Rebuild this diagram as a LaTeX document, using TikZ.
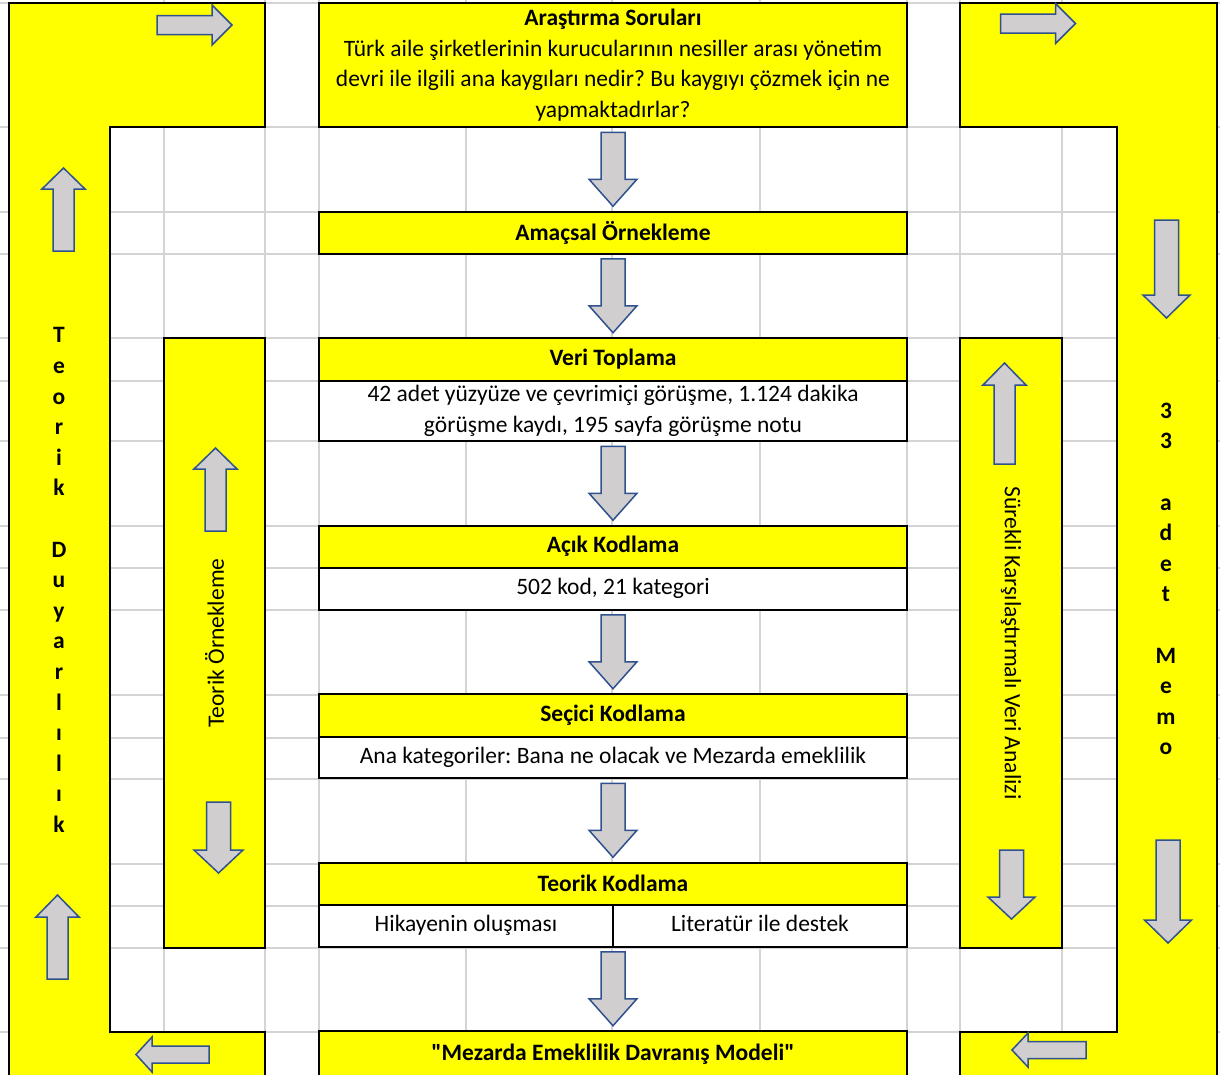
\documentclass[tikz,border=0pt]{standalone}
\usepackage{fontspec}
\setmainfont{Carlito}
\usetikzlibrary{positioning}
\usetikzlibrary{calc}
\definecolor{cellyellow}{HTML}{FFFF00}
\definecolor{arrowgray}{HTML}{D0CECE}
\definecolor{arrowblue}{HTML}{2F528F}
\definecolor{gridgray}{HTML}{D4D4D4}
\frenchspacing
\newcommand{\calsize}{\fontsize{23.5}{30.6}\selectfont}
\newcommand{\blockarrow}[6]{%
	\begin{scope}[shift={#1}, rotate=#2]
		\draw[bararrow] (-#3/2,-#5/2) -- (#3/2-#6,-#5/2) -- (#3/2-#6,-#4/2) -- (#3/2,0)
			-- (#3/2-#6,#4/2) -- (#3/2-#6,#5/2) -- (-#3/2,#5/2) -- cycle;
	\end{scope}}
\tikzset{%
	% Specifications for style of nodes:
	base/.style = {rectangle, draw=black, line width=2pt, outer sep=0pt,
		inner sep=0pt, align=center, minimum width=588pt},
	header/.style = {base, fill=cellyellow, minimum height=42pt,
		font=\calsize\bfseries},
	cell/.style = {base, fill=white, minimum height=42pt, font=\calsize},
	celltext/.style = {font=\calsize, text height=16pt, text depth=5pt},
	sidebox/.style = {base, fill=cellyellow, minimum width=101pt,
		minimum height=610pt},
	letters/.style = {align=center, inner sep=0pt, font=\calsize\bfseries},
	bararrow/.style = {draw=arrowblue, fill=arrowgray, line width=1.5pt,
		line join=miter},
	frame/.style = {draw=black, fill=cellyellow, line width=2pt},
	gridline/.style = {draw=gridgray, line width=1.5pt},
}
\begin{document}
\begin{tikzpicture}[x=1pt, y=-1pt, node distance=84.5pt]
\useasboundingbox (0,0) rectangle (1220,1074);
\clip (0,0) rectangle (1220,1074);
\fill[white] (0,0) rectangle (1220,1074);

\foreach \gx in {164,265,319,466,612,760,907,960,1062}
	\draw[gridline] (\gx,0) -- (\gx,1074);
\foreach \gy in {3,127,212,254,338,381,441,526,568,610,695,738,779,864,906,948,1032}
	\draw[gridline] (0,\gy) -- (1220,\gy);

\draw[frame] (9,3) -- (265,3) -- (265,127) -- (110,127) -- (110,1032)
	-- (265,1032) -- (265,1080) -- (9,1080) -- cycle;
\draw[frame] (960,3) -- (1217,3) -- (1217,1080) -- (960,1080) -- (960,1032)
	-- (1117,1032) -- (1117,127) -- (960,127) -- cycle;

\node (ars) [header, minimum height=124pt, font=\calsize] at (613,65) {\textbf{Araştırma Soruları}\\Türk aile şirketlerinin kurucularının nesiller arası yönetim\\devri ile ilgili ana kaygıları nedir? Bu kaygıyı çözmek için ne\\yapmaktadırlar?};
\node (ams) [header, below=of ars] {Amaçsal Örnekleme};
\node (vt) [header, minimum height=43pt, below=of ams] {Veri Toplama};
\node (vtc) [cell, minimum height=60pt, below=0pt of vt] {42 adet yüzyüze ve çevrimiçi görüşme, 1.124 dakika\\görüşme kaydı, 195 sayfa görüşme notu};
\node (ak) [header, below=of vtc] {Açık Kodlama};
\node (akc) [cell, below=0pt of ak] {502 kod, 21 kategori};
\node (sk) [header, minimum height=43pt, below=of akc] {Seçici Kodlama};
\node (skc) [cell, minimum height=41pt, below=0pt of sk] {Ana kategoriler: Bana ne olacak ve Mezarda emeklilik};
\node (tk) [header, below=of skc] {Teorik Kodlama};
\node (tkc) [cell, below=0pt of tk] {};
\draw[line width=2pt] (tkc.north) -- (tkc.south);
\node (tka) [celltext] at ($(tkc.west)!.25!(tkc.east)$) {Hikayenin oluşması};
\node (tkb) [celltext] at ($(tkc.west)!.75!(tkc.east)$) {Literatür ile destek};
\node (mdl) [header, minimum height=46pt, below=of tkc] {\textquotedbl Mezarda Emeklilik Davranış Modeli\textquotedbl};

\node (tor) [sidebox, left=54pt of vt.north west, anchor=north east] {};
\node (torl) [rotate=90, font=\calsize] at (tor.center) {Teorik Örnekleme};
\node (ska) [sidebox, minimum width=102pt, right=53pt of vt.north east, anchor=north west] {};
\node (skal) [rotate=-90, font=\calsize] at (ska.center) {Sürekli Karşılaştırmalı Veri Analizi};

\node (tdl) [letters] at (59,580) {T\\e\\o\\r\\i\\k\\\strut\\D\\u\\y\\a\\r\\l\\ı\\l\\ı\\k};
\node (memo) [letters] at (1166,579) {3\\3\\\strut\\a\\d\\e\\t\\\strut\\M\\e\\m\\o};

\foreach \a/\b in {ars/ams, ams/vt, vtc/ak, akc/sk, skc/tk, tkc/mdl}
	\blockarrow{($(\a.south)!.5!(\b.north)$)}{-90}{74}{48}{24}{27};

\blockarrow{(194.5,25)}{0}{75}{40}{19}{20}
\blockarrow{(1038,23.5)}{0}{75}{40}{19}{20}
\blockarrow{(63.5,209.5)}{90}{83}{43}{21}{21}
\blockarrow{(57.5,937)}{90}{84}{43}{21}{22}
\blockarrow{(172.5,1054.5)}{180}{73}{35}{17}{16}
\blockarrow{(1049,1050)}{180}{74}{34}{17}{16}
\blockarrow{(1166.5,269)}{-90}{98}{47}{24}{23}
\blockarrow{(1168,891.5)}{-90}{103}{47}{24}{23}
\blockarrow{(215.5,489.5)}{90}{83}{43}{21}{21}
\blockarrow{(218.5,837.5)}{-90}{71}{49}{24}{23}
\blockarrow{(1004.5,413.5)}{90}{101}{43}{21}{22}
\blockarrow{(1011.5,884.5)}{-90}{69}{47}{24}{22}
\end{tikzpicture}
\end{document}
